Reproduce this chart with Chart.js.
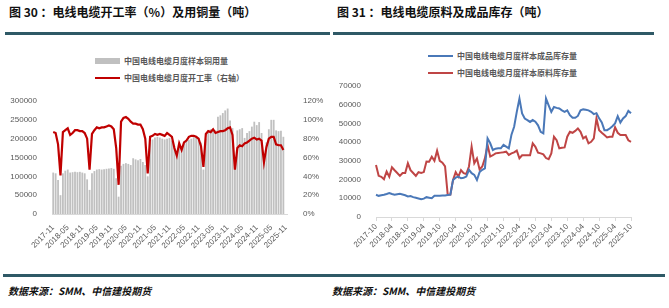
<!DOCTYPE html>
<html>
<head>
<meta charset="utf-8">
<script src="https://cdn.jsdelivr.net/npm/chart.js@4.4.1/dist/chart.umd.min.js"></script>
<style>
  body { margin: 0; background: #fff; width: 669px; height: 308px; overflow: hidden; position: relative; font-family: "Noto Sans CJK SC", "Liberation Sans", sans-serif; }
  .title { position: absolute; font-size: 12px; font-weight: bold; color: #111; white-space: nowrap; }
  .rule { position: absolute; height: 3px; background: #2f5966; }
  .src { position: absolute; font-size: 10px; font-weight: bold; font-style: italic; color: #111; white-space: nowrap; }
  .leg { position: absolute; font-size: 8px; font-weight: bold; color: #595959; white-space: nowrap; display: flex; align-items: center; }
  .sw { display: inline-block; width: 25px; margin-right: 4px; }
  canvas { position: absolute; }
</style>
</head>
<body>
<div class="title" style="left:9px;top:3px">图 30 ：电线电缆开工率（%）及用铜量（吨）</div>
<div class="title" style="left:337px;top:3px">图 31 ：电线电缆原料及成品库存（吨）</div>
<div class="rule" style="left:5px;top:32px;width:325px"></div>
<div class="rule" style="left:333px;top:32px;width:321px"></div>

<div class="leg" style="left:95px;top:55px"><span class="sw" style="height:6px;background:#c0c0c0"></span>中国电线电缆月度样本铜用量</div>
<div class="leg" style="left:95px;top:72px"><span class="sw" style="height:2px;background:#c00000"></span>中国电线电缆月度开工率（右轴）</div>
<div class="leg" style="left:428px;top:50px"><span class="sw" style="height:2px;background:#4a78b8"></span>中国电线电缆月度样本成品库存量</div>
<div class="leg" style="left:428px;top:67px"><span class="sw" style="height:2px;background:#bf4545"></span>中国电线电缆月度样本原料库存量</div>

<canvas id="chartCopper" width="330" height="230" style="left:0;top:40px"></canvas>
<canvas id="chartStock" width="339" height="230" style="left:330px;top:40px"></canvas>

<div class="rule" style="left:3px;top:274px;width:662px"></div>
<div class="src" style="left:8px;top:283px">数据来源：SMM、中信建投期货</div>
<div class="src" style="left:332px;top:283px">数据来源：SMM、中信建投期货</div>

<script>
// month labels (categories)
function months(y, m, n) {
    var out = [];
    for (var i = 0; i < n; i++) {
        out.push(y + '-' + (m < 10 ? '0' + m : m));
        m++;
        if (m > 12) { m = 1; y++; }
    }
    return out;
}

// 图30: 2017-11 .. 2025-11
var copperMonths = months(2017, 11, 97);
var copperUse = [
    110000, 108000, 90000, 50000, 108000, 115000, 118000, 110000, 111000, 112000, 111000, 112000,
    110000, 108000, 92000, 64000, 108000, 114000, 118000, 119000, 118000, 119000, 120000, 121000,
    122000, 120000, 95000, 46000, 128000, 133000, 135000, 133000, 130000, 148000, 145000, 143000,
    146000, 138000, 130000, 100000, 190000, 198000, 203000, 205000, 203000, 200000, 198000, 200000,
    202000, 195000, 180000, 160000, 182000, 178000, 188000, 195000, 197000, 200000, 204000, 206000,
    202000, 190000, 118000, 200000, 222000, 225000, 220000, 222000, 258000, 262000, 268000, 275000,
    280000, 248000, 228000, 125000, 222000, 225000, 228000, 202000, 215000, 220000, 232000, 245000,
    236000, 244000, 215000, 140000, 190000, 225000, 250000, 250000, 222000, 220000, 221000, 205000,
    null
];
var operatingRate = [
    87, 86, 74, 41, 87, 89, 91, 84, 86, 89, 89, 88,
    88, 86, 80, 47, 85, 89, 92, 91, 92, 92, 93, 94,
    93, 90, 70, 31, 98, 102, 103, 101, 98, 96, 96, 95,
    95, 90, 80, 43, 82, 83, 85, 84, 85, 84, 83, 86,
    84, 82, 70, 62, 75, 68, 76, 78, 82, 83, 83, 82,
    80, 72, 50, 85, 88, 87, 90, 86, 87, 88, 88, 89,
    91, 92, 84, 47, 70, 73, 72, 75, 76, 78, 80, 81,
    79, 80, 78, 55, 71, 80, 82, 82, 74, 73, 73, 68,
    null
];

// 图31: 2017-10 .. 2025-10
var stockMonths = months(2017, 10, 97);
var finishedStock = [
    11900, 11300, 11600, 11900, 12300, 12800, 12300, 11900, 12200, 12400, 12000, 11600,
    11000, 11200, 10600, 10300, 9900, 9500, 9800, 10600, 10300, 10000, 11300, 11300,
    11400, 11500, 11500, 11700, 11900, 19800, 21000, 21600, 20700, 21000, 21600, 25200,
    23400, 22500, 19800, 24000, 25200, 26000, 42000, 39400, 35800, 36500, 36700, 36700,
    38500, 37600, 36700, 44000, 48200, 56200, 63300, 55300, 52600, 51800, 50800, 51800,
    50900, 49000, 45500, 44700, 63300, 59700, 56200, 58800, 58300, 58000, 57000, 56200,
    57000, 54400, 53000, 53000, 54000, 57000, 57500, 57300, 57000, 56200, 55000, 55500,
    52700, 50500, 46400, 46400, 47300, 48500, 50000, 53900, 50500, 52700, 53900, 56700,
    55400
];
var rawStock = [
    27800, 22000, 21500, 20200, 24300, 21500, 26600, 25000, 23500, 22000, 23500, 23500,
    28700, 25000, 23500, 22000, 24000, 23500, 24000, 29600, 29500, 32200, 30000, 35400,
    30000, 29000, 27000, 11900, 12000, 19800, 24000, 21500, 25000, 23400, 23000, 27000,
    37600, 28700, 31300, 25400, 27000, 31300, 38500, 32300, 33000, 34000, 34200, 34400,
    34600, 34900, 33200, 34000, 34500, 35500, 31400, 33000, 33000, 33000, 33000, 39400,
    37500, 34400, 34000, 33500, 31500, 30900, 34000, 42900, 41000, 36700, 37000, 37200,
    42900, 45500, 45000, 46000, 47300, 45500, 42000, 43000, 39400, 40200, 42000, 52700,
    46400, 45000, 43800, 42500, 42900, 42900, 47900, 45000, 43800, 43800, 43800, 41000,
    40200
];

var tickFont = { family: 'Liberation Sans', size: 8 };
var tickColor = '#595959';

function everySix(val, idx) {
    return idx % 6 === 0 ? this.getLabelForValue(val) : '';
}
function plain(v) { return String(v); }

const chartCopper = new Chart('chartCopper', {
    type: 'bar',
    data: {
        labels: copperMonths,
        datasets: [{
            type: 'line',
            label: '中国电线电缆月度开工率（右轴）',
            data: operatingRate,
            yAxisID: 'y1',
            borderColor: '#c00000',
            borderWidth: 2.2,
            pointRadius: 0,
            tension: 0,
            order: 0
        }, {
            label: '中国电线电缆月度样本铜用量',
            data: copperUse,
            yAxisID: 'y',
            backgroundColor: '#c0c0c0',
            barPercentage: 0.75,
            categoryPercentage: 1,
            order: 1
        }]
    },
    options: {
        responsive: false,
        animation: false,
        layout: { padding: { top: 61, left: 0, right: 0, bottom: 0 } },
        plugins: { legend: { display: false }, tooltip: { enabled: false } },
        scales: {
            x: {
                offset: true,
                grid: { display: false },
                border: { color: '#d9d9d9' },
                ticks: { autoSkip: false, maxRotation: 45, minRotation: 45, font: tickFont, color: tickColor, padding: 1, callback: everySix },
                afterFit: function (s) { s.height = 56; }
            },
            y: {
                min: 0, max: 300000,
                grid: { display: false },
                border: { display: false },
                ticks: { stepSize: 50000, font: tickFont, color: tickColor, padding: 7, callback: plain },
                afterFit: function (s) { s.width = 52; }
            },
            y1: {
                position: 'right',
                min: 0, max: 120,
                grid: { display: false },
                border: { display: false },
                ticks: { stepSize: 20, font: tickFont, color: tickColor, padding: 8, callback: function (v) { return v + '%'; } },
                afterFit: function (s) { s.width = 43; }
            }
        }
    }
});

const chartStock = new Chart('chartStock', {
    type: 'line',
    data: {
        labels: stockMonths,
        datasets: [{
            label: '中国电线电缆月度样本成品库存量',
            data: finishedStock,
            borderColor: '#4a78b8',
            borderWidth: 2,
            pointRadius: 0,
            tension: 0
        }, {
            label: '中国电线电缆月度样本原料库存量',
            data: rawStock,
            borderColor: '#bf4545',
            borderWidth: 2,
            pointRadius: 0,
            tension: 0
        }]
    },
    options: {
        responsive: false,
        animation: false,
        layout: { padding: { top: 46, left: 0, right: 38, bottom: 0 } },
        plugins: { legend: { display: false }, tooltip: { enabled: false } },
        scales: {
            x: {
                offset: false,
                grid: {
                    drawOnChartArea: false,
                    tickLength: 4,
                    color: function (c) { return c.index % 6 === 0 ? '#d9d9d9' : 'rgba(0,0,0,0)'; }
                },
                border: { color: '#d9d9d9' },
                ticks: { autoSkip: false, maxRotation: 45, minRotation: 45, font: tickFont, color: tickColor, padding: 1, callback: everySix },
                afterFit: function (s) { s.height = 53; }
            },
            y: {
                min: 0, max: 70000,
                grid: { display: false },
                border: { display: false },
                ticks: { stepSize: 10000, font: tickFont, color: tickColor, padding: 7, callback: plain },
                afterFit: function (s) { s.width = 46; }
            }
        }
    }
});
</script>
</body>
</html>
